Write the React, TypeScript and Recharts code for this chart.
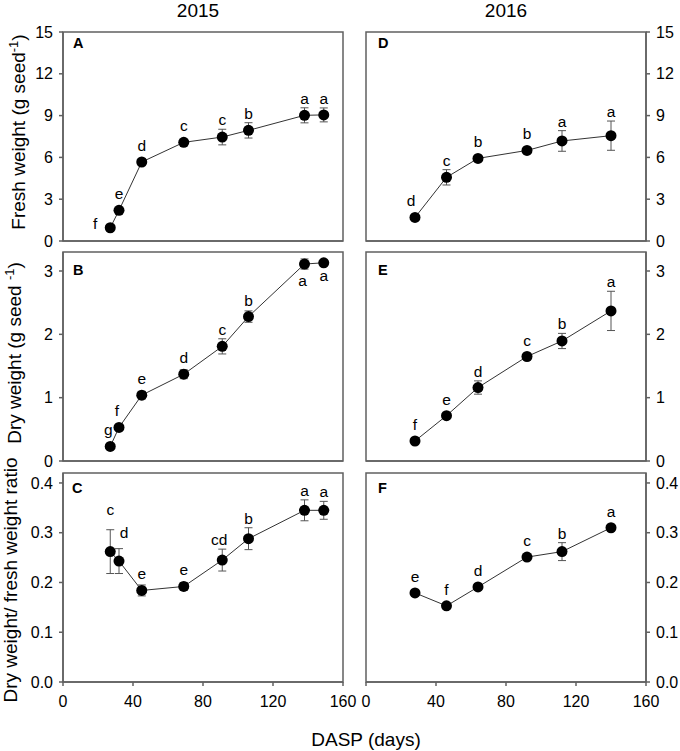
import React from "react";
import { LineChart, Line, XAxis, YAxis, ErrorBar, ReferenceArea } from "recharts";

// sampling days (DASP)
const days2015 = [27, 32, 45, 69, 91, 106, 138, 149];
const days2016 = [28, 46, 64, 92, 112, 140];

// 2015
const fresh2015 = [0.95, 2.2, 5.67, 7.08, 7.46, 7.94, 9.02, 9.05];
const freshErr2015 = [0.1, 0.15, 0.2, 0.2, 0.56, 0.55, 0.54, 0.5];
const freshLetters2015 = ["f", "e", "d", "c", "c", "b", "a", "a"];

const dry2015 = [0.23, 0.53, 1.04, 1.37, 1.81, 2.28, 3.11, 3.13];
const dryErr2015 = [0.02, 0.03, 0.06, 0.07, 0.12, 0.09, 0.08, 0.03];
const dryLetters2015 = ["g", "f", "e", "d", "c", "b", "a", "a"];

const ratio2015 = [0.262, 0.243, 0.184, 0.192, 0.245, 0.288, 0.345, 0.345];
const ratioErr2015 = [0.044, 0.025, 0.011, 0.008, 0.022, 0.022, 0.021, 0.018];
const ratioLetters2015 = ["c", "d", "e", "e", "cd", "b", "a", "a"];

// 2016
const fresh2016 = [1.69, 4.57, 5.93, 6.5, 7.18, 7.56];
const freshErr2016 = [0.1, 0.55, 0.2, 0.15, 0.74, 1.05];
const freshLetters2016 = ["d", "c", "b", "b", "a", "a"];

const dry2016 = [0.316, 0.716, 1.16, 1.65, 1.895, 2.37];
const dryErr2016 = [0.02, 0.03, 0.105, 0.04, 0.12, 0.31];
const dryLetters2016 = ["f", "e", "d", "c", "b", "a"];

const ratio2016 = [0.179, 0.153, 0.191, 0.251, 0.262, 0.31];
const ratioErr2016 = [0.003, 0.003, 0.003, 0.005, 0.018, 0.004];
const ratioLetters2016 = ["e", "f", "d", "c", "b", "a"];

const xTicks = [0, 40, 80, 120, 160];
const freshTicks = [0, 3, 6, 9, 12, 15];
const dryTicks = [0, 1, 2, 3];
const ratioTicks = [0, 0.1, 0.2, 0.3, 0.4];

const FONT = '"Liberation Sans", Arial, Helvetica, sans-serif';
const FRAME = "#606060";
const PLOT_W = 280;
const PLOT_H = 209;
const GAP = 10;

type Shift = { dx?: number; dy?: number };

interface PanelProps {
  days: number[];
  values: number[];
  errors: number[];
  letters: string[];
  yMax: number;
  yTicks: number[];
  fmt?: (v: number) => string;
  side: "left" | "right";
  showX: boolean;
  left: number;
  top: number;
  shifts?: Record<number, Shift>;
}

function Panel({ days, values, errors, letters, yMax, yTicks, fmt, side, showX, left, top, shifts }: PanelProps) {
  const data = days.map((d, i) => ({ day: d, value: values[i], err: errors[i] }));
  const axisW = side === "left" ? 60 : 34;
  const xH = showX ? 40 : 10;
  // left column gets extra room on the right so its "160" isn't clipped
  const farSide = side === "left" ? 22 : GAP;
  const width = axisW + PLOT_W + farSide;
  const height = GAP + PLOT_H + xH;
  const chartLeft = side === "left" ? left - axisW : left - GAP;
  const pxPerUnit = PLOT_H / yMax;

  const renderDot = (p: any) => {
    const { cx, cy, index, payload } = p;
    const errPx = payload.err * pxPerUnit;
    const s = shifts?.[index];
    const baseY = s?.dy !== undefined ? cy + s.dy : Math.min(cy - 11, cy - errPx - 4);
    return (
      <g key={`dot-${index}`}>
        <circle cx={cx} cy={cy} r={5.5} fill="#000" />
        <text
          x={cx + (s?.dx ?? 0)}
          y={baseY}
          textAnchor="middle"
          fontSize={15.5}
          fontFamily={FONT}
          fill="#000"
        >
          {letters[index]}
        </text>
      </g>
    );
  };

  const tickStyle = { fill: "#000", fontSize: 16, fontFamily: FONT };

  return (
    <div style={{ position: "absolute", left: chartLeft, top: top - GAP }}>
      <LineChart
        width={width}
        height={height}
        data={data}
        margin={{
          top: GAP,
          right: side === "left" ? farSide : 0,
          left: side === "right" ? GAP : 0,
          bottom: 0,
        }}
      >
        <XAxis
          type="number"
          dataKey="day"
          domain={[0, 160]}
          ticks={xTicks}
          interval={0}
          height={xH}
          tickSize={4}
          tickMargin={10}
          tick={showX ? tickStyle : false}
          axisLine={{ stroke: FRAME, strokeWidth: 1.5 }}
          tickLine={{ stroke: FRAME, strokeWidth: 1.5 }}
          allowDataOverflow
        />
        <YAxis
          type="number"
          orientation={side}
          width={axisW}
          domain={[0, yMax]}
          ticks={yTicks}
          interval={0}
          tickSize={4}
          tickMargin={6}
          tick={tickStyle}
          tickFormatter={fmt}
          axisLine={{ stroke: FRAME, strokeWidth: 1.5 }}
          tickLine={{ stroke: FRAME, strokeWidth: 1.5 }}
          allowDataOverflow
        />
        <ReferenceArea
          x1={0}
          x2={160}
          y1={0}
          y2={yMax}
          fill="none"
          stroke={FRAME}
          strokeWidth={1.5}
          ifOverflow="visible"
        />
        <Line
          type="linear"
          dataKey="value"
          stroke="#333"
          strokeWidth={1}
          dot={renderDot}
          activeDot={false}
          isAnimationActive={false}
        >
          <ErrorBar dataKey="err" direction="y" width={4} stroke="#555" strokeWidth={1} isAnimationActive={false} />
        </Line>
      </LineChart>
    </div>
  );
}

const ratioFmt = (v: number) => v.toFixed(1);

export default function App() {
  const leftX = 63.3;
  const rightX = 365.5;
  const rows = [32.3, 251.8, 472.7];

  return (
    <div style={{ position: "absolute", left: 0, top: 0, width: 680, height: 751, background: "#fff" }}>
      <Panel days={days2015} values={fresh2015} errors={freshErr2015} letters={freshLetters2015}
        yMax={15} yTicks={freshTicks} side="left" showX={false} left={leftX} top={rows[0]}
        shifts={{ 0: { dx: -15, dy: 1 } }} />
      <Panel days={days2015} values={dry2015} errors={dryErr2015} letters={dryLetters2015}
        yMax={3.3} yTicks={dryTicks} side="left" showX={false} left={leftX} top={rows[1]}
        shifts={{ 0: { dx: -2 }, 1: { dx: -2 }, 6: { dx: -2, dy: 21.5 }, 7: { dy: 18.5 } }} />
      <Panel days={days2015} values={ratio2015} errors={ratioErr2015} letters={ratioLetters2015}
        yMax={0.42} yTicks={ratioTicks} fmt={ratioFmt} side="left" showX={true} left={leftX} top={rows[2]}
        shifts={{ 0: { dy: -36.5 }, 1: { dx: 5, dy: -23 }, 4: { dx: -3 } }} />

      <Panel days={days2016} values={fresh2016} errors={freshErr2016} letters={freshLetters2016}
        yMax={15} yTicks={freshTicks} side="right" showX={false} left={rightX} top={rows[0]}
        shifts={{ 0: { dx: -4 } }} />
      <Panel days={days2016} values={dry2016} errors={dryErr2016} letters={dryLetters2016}
        yMax={3.3} yTicks={dryTicks} side="right" showX={false} left={rightX} top={rows[1]} />
      <Panel days={days2016} values={ratio2016} errors={ratioErr2016} letters={ratioLetters2016}
        yMax={0.42} yTicks={ratioTicks} fmt={ratioFmt} side="right" showX={true} left={rightX} top={rows[2]} />

      <svg width={680} height={751} style={{ position: "absolute", left: 0, top: 0, pointerEvents: "none" }}
        fontFamily={FONT} fill="#000">
        <text x={198} y={17} fontSize={19} textAnchor="middle">2015</text>
        <text x={506} y={17} fontSize={19} textAnchor="middle">2016</text>

        <text transform="translate(24.5,132) rotate(-90)" fontSize={19} textAnchor="middle">
          Fresh weight (g seed<tspan dy={-7} fontSize={13}>-1</tspan><tspan dy={7}>)</tspan>
        </text>
        <text transform="translate(21,353) rotate(-90)" fontSize={19} textAnchor="middle">
          Dry weight (g seed <tspan dy={-7} fontSize={13}>-1</tspan><tspan dy={7}>)</tspan>
        </text>
        <text transform="translate(16.5,580) rotate(-90)" fontSize={19} textAnchor="middle">
          Dry weight/ fresh weight ratio
        </text>
        <text x={366} y={746} fontSize={19} textAnchor="middle">DASP (days)</text>

        <g fontSize={14.5} fontWeight="bold">
          <text x={73} y={48}>A</text>
          <text x={73} y={275}>B</text>
          <text x={72} y={493}>C</text>
          <text x={378} y={48}>D</text>
          <text x={378} y={275}>E</text>
          <text x={378} y={493}>F</text>
        </g>
      </svg>
    </div>
  );
}
